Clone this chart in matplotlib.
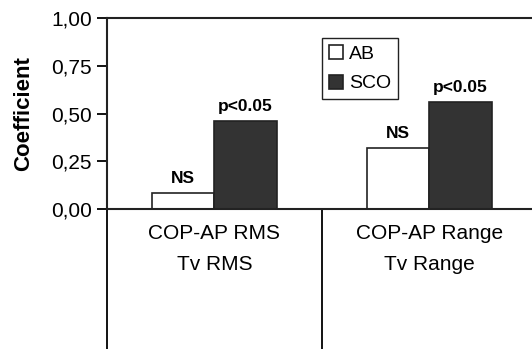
import matplotlib.pyplot as plt
import numpy as np

# Data
categories = ['COP-AP RMS\nTv RMS', 'COP-AP Range\nTv Range']
ab_values = [0.084, 0.318]
sco_values = [0.46, 0.56]
ab_labels = ['NS', 'NS']
sco_labels = ['p<0.05', 'p<0.05']
yticks = [0.0, 0.25, 0.5, 0.75, 1.0]
ytick_labels = ['0,00', '0,25', '0,50', '0,75', '1,00']

plt.rcParams['font.family'] = ['Liberation Sans', 'DejaVu Sans']

fig = plt.figure(figsize=(5.32, 3.49), dpi=100)
ax = fig.add_axes([0.201, 0.401, 0.808, 0.547])

x = np.arange(len(categories))
w = 0.29
bars_ab = ax.bar(x - w / 2, ab_values, w, color='white', edgecolor='#222222',
                 linewidth=1.2, label='AB')
bars_sco = ax.bar(x + w / 2, sco_values, w, color='#333333', edgecolor='#222222',
                  linewidth=1.2, label='SCO')

# significance labels above bars
for b, t in zip(bars_ab, ab_labels):
    ax.annotate(t, (b.get_x() + b.get_width() / 2, b.get_height()),
                xytext=(0, 5), textcoords='offset points', ha='center', va='bottom',
                fontsize=12.5, fontweight='bold')
for b, t in zip(bars_sco, sco_labels):
    ax.annotate(t, (b.get_x() + b.get_width() / 2, b.get_height()),
                xytext=(0, 5), textcoords='offset points', ha='center', va='bottom',
                fontsize=12.5, fontweight='bold')

ax.set_xlim(-0.5, 1.5)
ax.set_ylim(0, 1)
ax.set_yticks(yticks)
ax.set_yticklabels(ytick_labels, fontsize=15)
ax.tick_params(axis='y', direction='out', length=7, width=1.3, pad=4)

# category labels on major ticks, long separators as minor ticks
ax.set_xticks(x)
ax.set_xticklabels(categories, fontsize=15, linespacing=1.75)
ax.tick_params(axis='x', which='major', length=0, pad=11)
ax.set_xticks([-0.5, 0.5, 1.5], minor=True)
ax.tick_params(axis='x', which='minor', direction='out', length=101, width=1.3)

for s in ['left', 'bottom', 'top']:
    ax.spines[s].set_linewidth(1.5)
    ax.spines[s].set_color('#222222')
ax.spines['right'].set_visible(False)

ax.set_ylabel('Coefficient', fontsize=16, fontweight='bold', labelpad=12)

leg = ax.legend(loc='upper left', bbox_to_anchor=(0.5, 0.895), fontsize=14,
                handlelength=0.75, handleheight=0.75, handletextpad=0.3,
                borderpad=0.35, labelspacing=0.6, fancybox=False, framealpha=1,
                borderaxespad=0)
leg.get_frame().set_edgecolor('#222222')
leg.get_frame().set_linewidth(1.0)

fig.savefig('out.png', dpi=100)
